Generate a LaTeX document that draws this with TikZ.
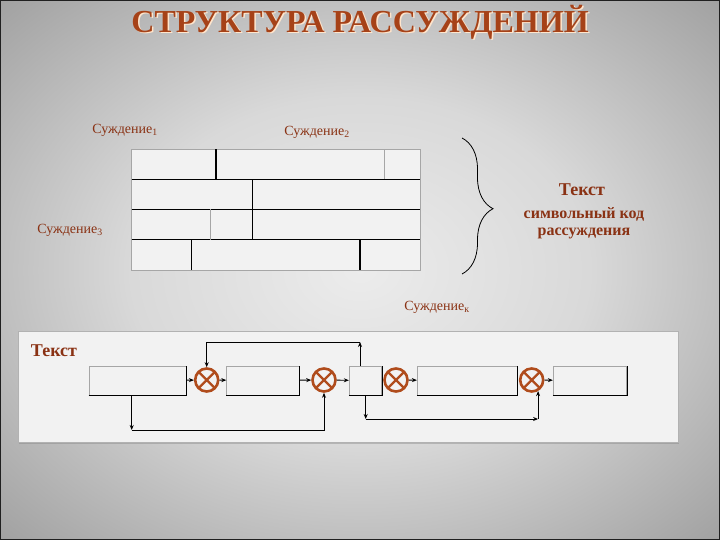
\documentclass[tikz,border=0pt]{standalone}
\usepackage{fontspec}
\setmainfont{Liberation Serif}
\usetikzlibrary{positioning,arrows.meta,decorations.pathreplacing,shadows}

\definecolor{titlered}{RGB}{166,66,24}
\definecolor{labelred}{RGB}{138,50,20}
\definecolor{mulorange}{RGB}{176,76,28}
\definecolor{panelgray}{RGB}{242,242,242}

\pgfdeclareradialshading{slidebg}{\pgfpoint{0bp}{0bp}}{color(0bp)=(gray!15); color(16bp)=(gray!30); color(36bp)=(gray!75); color(50bp)=(gray!95)}

\tikzset{
  sudlabel/.style={text=labelred, font=\fontsize{14}{14}\selectfont, inner sep=0pt},
  block/.style={draw=gray!70, fill=panelgray, line width=0.8pt, minimum height=29pt, inner sep=0pt},
  mul/.style={circle, draw=mulorange, line width=2.6pt, minimum size=23pt, inner sep=0pt, fill=panelgray,
    path picture={\draw[mulorange, line width=2.4pt]
      (path picture bounding box.north west) -- (path picture bounding box.south east)
      (path picture bounding box.north east) -- (path picture bounding box.south west);}},
  link/.style={->, line width=0.9pt},
}

\begin{document}
\begin{tikzpicture}[x=1pt, y=-1pt, >={Stealth[length=5pt,width=4pt]}]
  \useasboundingbox (0,0) rectangle (720,540);
  % 1. фон
  \shade[shading=slidebg] (0,0) rectangle (720,540);
  \draw[gray!25!black, line width=1.5pt] (0,0) rectangle (720,540);

  % 2. заголовок
  \node[text=white!80!orange, font=\bfseries\fontsize{32}{32}\selectfont] (titleshadow) at (361.5,23.5) {СТРУКТУРА РАССУЖДЕНИЙ};
  \node[text=titlered, font=\bfseries\fontsize{32}{32}\selectfont] (title) at (360,22) {СТРУКТУРА РАССУЖДЕНИЙ};

  % 3. кладка суждений
  \fill[panelgray] (131.5,149.5) rectangle (420,270);
  \draw[gray!70, line width=0.8pt] (131.5,149.5) rectangle (420,270);
  \foreach \y/\w in {179.5/1.1pt, 209.5/1.6pt, 239.5/1.1pt}
    \draw[line width=\w] (131.5,\y) -- (420,\y);
  \foreach \x/\ya/\yb in {216/149.5/179.5, 252.3/179.5/239.5, 191.7/239.5/270, 360/239.5/270}
    \draw[line width=1.3pt] (\x,\ya) -- (\x,\yb);
  \foreach \x/\ya/\yb in {384.3/149.5/179.5, 210/209.5/239.5}
    \draw[gray!70, line width=0.8pt] (\x,\ya) -- (\x,\yb);

  \node[sudlabel] (sud1) at (125,130) {Суждение\textsubscript{1}};
  \node[sudlabel] (sud2) at (317,132) {Суждение\textsubscript{2}};
  \node[sudlabel] (sud3) at (70,230) {Суждение\textsubscript{3}};
  \node[sudlabel] (sudk) at (437,307) {Суждение\textsubscript{к}};

  % 4. скобка и подпись
  \draw[decorate, decoration={brace, amplitude=31pt, aspect=0.52}, line width=0.8pt] (462,138) -- (462,274);
  \node[text=labelred, font=\bfseries\fontsize{18}{18}\selectfont] (code) at (582,190) {Текст};
  \node[text=labelred, font=\bfseries\fontsize{16}{17}\selectfont, align=center] (codetxt) at (584,223) {символьный код\\рассуждения};

  % 5. схема
  \fill[panelgray, draw=gray!60, line width=0.8pt, drop shadow={shadow xshift=1pt, shadow yshift=-2pt, opacity=0.4}] (18,331) rectangle (678,442);
  \node[text=labelred, font=\bfseries\fontsize{18}{18}\selectfont] (scheme) at (54,351) {Текст};

  \node[block, minimum width=97pt] (b1) at (137.5,380.5) {};
  \node[block, minimum width=72.6pt] (b2) at (263,380.5) {};
  \node[block, minimum width=32.5pt] (b3) at (365.5,380.5) {};
  \node[block, minimum width=100pt] (b4) at (467.3,380.5) {};
  \node[block, minimum width=73.4pt] (b5) at (590,380.5) {};
  \foreach \b in {b1,b2,b3,b4,b5}
    \draw[line width=1pt] (\b.south west) -- (\b.south east) -- (\b.north east);

  \node[mul] (m1) at (206.7,380) {};
  \node[mul] (m2) at (324,380) {};
  \node[mul] (m3) at (396,380) {};
  \node[mul] (m4) at (531.7,380) {};

  \draw[link] (b1) -- (m1);
  \draw[link] (m1) -- (b2);
  \draw[link] (b2) -- (m2);
  \draw[link] (m2) -- (b3);
  \draw[link] (m3) -- (b4);
  \draw[link] (m4) -- (b5);

  % обратные связи
  \coordinate (fbA) at (360,342);
  \coordinate (fbB) at (131.7,430);
  \coordinate (fbC) at (365.7,419);
  \coordinate (fbD) at (m4.-60 |- fbC);
  \draw[link] (b3.north -| fbA) -- (fbA);
  \draw[link] (fbA) -| (m1);
  \draw[link] (b1.south -| fbB) -- (fbB);
  \draw[link] (fbB) -| (m2);
  \draw[link] (b3.south -| fbC) -- (fbC);
  \draw[link] (fbC) -- (fbD);
  \draw[link] (fbD) -- (m4.-60);
\end{tikzpicture}
\end{document}
